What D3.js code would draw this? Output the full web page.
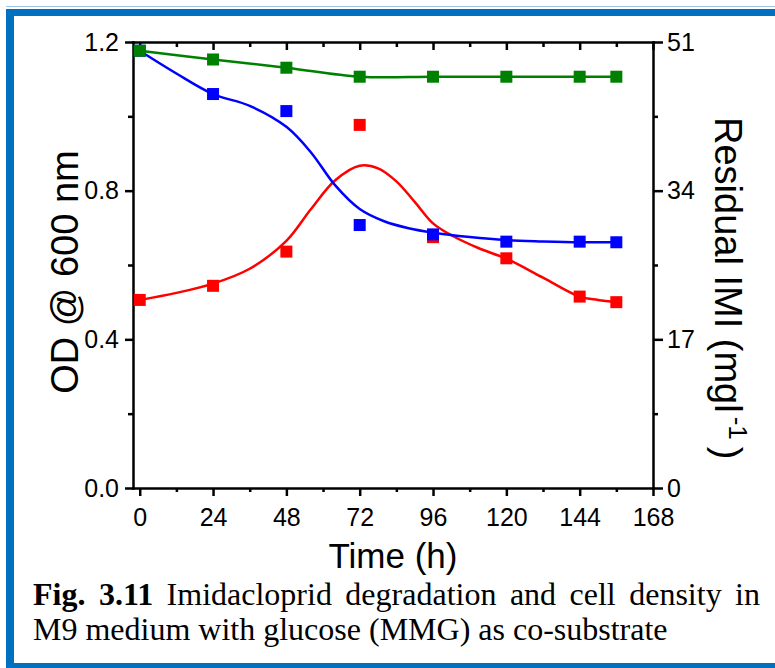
<!DOCTYPE html>
<html>
<head>
<meta charset="utf-8">
<script src="https://cdn.jsdelivr.net/npm/d3@7"></script>
<style>
  body { margin: 0; background: #fff; }
  svg { display: block; }
  .axis path, .axis line { stroke: #000; stroke-width: 2.5; }
  .axis text { font-family: "Liberation Sans", Arial, sans-serif; font-size: 25px; fill: #000; }
  .label { font-family: "Liberation Sans", Arial, sans-serif; font-size: 35px; fill: #000; }
  .caption { font-family: "Liberation Serif", "Times New Roman", serif; font-size: 32px; fill: #000; }
</style>
</head>
<body>
<div id="chart"></div>
<script>
// measured points
const hours = [0, 24, 48, 72, 96, 120, 144, 156];
const odValues = [0.506, 0.544, 0.636, 0.977, 0.675, 0.618, 0.515, 0.500];
const imiValues = [50.0, 45.05, 43.1, 30.07, 29.0, 28.17, 28.17, 28.1];
const controlValues = [50.0, 49.0, 48.06, 47.03, 47.03, 47.03, 47.03, 47.03];

// fitted curves
const odFitHours = [0, 12, 24, 36, 48, 56, 64, 72, 78, 84, 90, 96, 102, 111, 120, 132, 144, 150, 156];
const odFit = [0.506, 0.525, 0.550, 0.590, 0.665, 0.750, 0.828, 0.867, 0.860, 0.825, 0.770, 0.712, 0.680, 0.645, 0.617, 0.566, 0.515, 0.506, 0.500];
const imiFitHours = [0, 12, 24, 36, 48, 56, 64, 72, 80, 88, 96, 108, 120, 132, 144, 156];
const imiFit = [50.0, 47.4, 45.05, 43.7, 41.3, 38.4, 34.6, 31.9, 30.5, 29.7, 29.2, 28.7, 28.35, 28.2, 28.1, 28.1];

// ticks
const xTicks = [0, 24, 48, 72, 96, 120, 144, 168];
const xMinor = [12, 36, 60, 84, 108, 132, 156];
const odTicks = [0, 0.4, 0.8, 1.2];
const odMinor = [0.2, 0.6, 1.0];
const imiTicks = [0, 17, 34, 51];
const imiMinor = [8.5, 25.5, 42.5];

const width = 775, height = 668;
const svg = d3.select("#chart").append("svg")
    .attr("width", width)
    .attr("height", height);

// frame
svg.append("line").attr("x1", 6).attr("x2", width).attr("y1", 6.5).attr("y2", 6.5)
    .attr("stroke", "#9dc3e6").attr("stroke-width", 1);
svg.append("line").attr("x1", 6).attr("x2", width).attr("y1", 12.5).attr("y2", 12.5)
    .attr("stroke", "#0070c0").attr("stroke-width", 7);
svg.append("line").attr("x1", 10).attr("x2", 10).attr("y1", 9).attr("y2", height)
    .attr("stroke", "#0070c0").attr("stroke-width", 8);
svg.append("line").attr("x1", 6).attr("x2", width).attr("y1", 665.5).attr("y2", 665.5)
    .attr("stroke", "#0070c0").attr("stroke-width", 5);

// scales
const x = d3.scaleLinear().domain([-2.2, 168]).range([133, 653]);
const yLeft = d3.scaleLinear().domain([0, 1.2]).range([488, 42]);
const yRight = d3.scaleLinear().domain([0, 51]).range([488, 42]);

// axes
svg.append("g").attr("class", "axis")
    .attr("transform", "translate(0,488)")
    .call(d3.axisBottom(x).tickValues(xTicks).tickSize(8).tickSizeOuter(0).tickPadding(12))
    .selectAll("text").attr("dy", "0.71em");
svg.append("g").attr("class", "axis")
    .attr("transform", "translate(0,488)")
    .call(d3.axisBottom(x).tickValues(xMinor).tickSize(4).tickFormat(""))
    .select(".domain").remove();

svg.append("g").attr("class", "axis")
    .attr("transform", "translate(0,42)")
    .call(d3.axisTop(x).tickValues(xTicks).tickSize(-8).tickSizeOuter(0).tickFormat(""));
svg.append("g").attr("class", "axis")
    .attr("transform", "translate(0,42)")
    .call(d3.axisTop(x).tickValues(xMinor).tickSize(-5).tickFormat(""))
    .select(".domain").remove();

svg.append("g").attr("class", "axis")
    .attr("transform", "translate(133,0)")
    .call(d3.axisLeft(yLeft).tickValues(odTicks).tickSize(8).tickSizeOuter(0)
        .tickPadding(6).tickFormat(d3.format(".1f")));
svg.append("g").attr("class", "axis")
    .attr("transform", "translate(133,0)")
    .call(d3.axisLeft(yLeft).tickValues(odMinor).tickSize(5).tickFormat(""))
    .select(".domain").remove();

svg.append("g").attr("class", "axis")
    .attr("transform", "translate(653,0)")
    .call(d3.axisRight(yRight).tickValues(imiTicks).tickSize(10).tickSizeOuter(0).tickPadding(4));
svg.append("g").attr("class", "axis")
    .attr("transform", "translate(653,0)")
    .call(d3.axisRight(yRight).tickValues(imiMinor).tickSize(5).tickFormat(""))
    .select(".domain").remove();

svg.selectAll(".axis .domain").attr("stroke-linecap", "square");

// axis labels
svg.append("text").attr("class", "label")
    .attr("x", 393).attr("y", 568)
    .attr("text-anchor", "middle")
    .text("Time (h)");

svg.append("text").attr("class", "label")
    .attr("transform", "translate(78,272) rotate(-90)")
    .attr("text-anchor", "middle")
    .style("font-size", "38px")
    .text("OD @ 600 nm");

const rl = svg.append("text").attr("class", "label")
    .attr("transform", "translate(715,117) rotate(90)")
    .style("font-size", "38px");
rl.append("tspan").text("Residual IMI (mgl");
rl.append("tspan").attr("dy", -14).attr("dx", 4).style("font-size", "26px").text("-1");
rl.append("tspan").attr("dy", 14).attr("dx", 7).text(")");

// series
const series = [
    { color: "#ff0000", axis: yLeft, values: odValues, fitT: odFitHours, fit: odFit },
    { color: "#0000ff", axis: yRight, values: imiValues, fitT: imiFitHours, fit: imiFit },
    { color: "#008000", axis: yRight, values: controlValues, fitT: hours, fit: controlValues }
];

const markSize = 12;
series.forEach(s => {
    const line = d3.line()
        .x(d => x(d[0]))
        .y(d => s.axis(d[1]))
        .curve(d3.curveCatmullRom.alpha(0.5));
    svg.append("path")
        .attr("d", line(d3.zip(s.fitT, s.fit)))
        .attr("fill", "none")
        .attr("stroke", s.color)
        .attr("stroke-width", 2.5);
    svg.append("g").selectAll("rect")
        .data(d3.zip(hours, s.values))
        .join("rect")
        .attr("x", d => x(d[0]) - markSize / 2)
        .attr("y", d => s.axis(d[1]) - markSize / 2)
        .attr("width", markSize)
        .attr("height", markSize)
        .attr("fill", s.color);
});

// caption, first line justified
const line1 = [["Fig.", true], ["3.11", true], ["Imidacloprid", false], ["degradation", false],
    ["and", false], ["cell", false], ["density", false], ["in", false]];
const capLeft = 33, capRight = 760;
const words = svg.append("g").selectAll("text")
    .data(line1)
    .join("text")
    .attr("class", "caption")
    .attr("y", 605)
    .attr("font-weight", d => d[1] ? "bold" : "normal")
    .text(d => d[0]);
const widths = words.nodes().map(n => n.getComputedTextLength());
const gap = (capRight - capLeft - d3.sum(widths)) / (widths.length - 1);
let cx = capLeft;
words.attr("x", (d, i) => {
    const pos = cx;
    cx += widths[i] + gap;
    return pos;
});

svg.append("text").attr("class", "caption")
    .attr("x", capLeft).attr("y", 640)
    .text("M9 medium with glucose (MMG) as co-substrate");
</script>
</body>
</html>
